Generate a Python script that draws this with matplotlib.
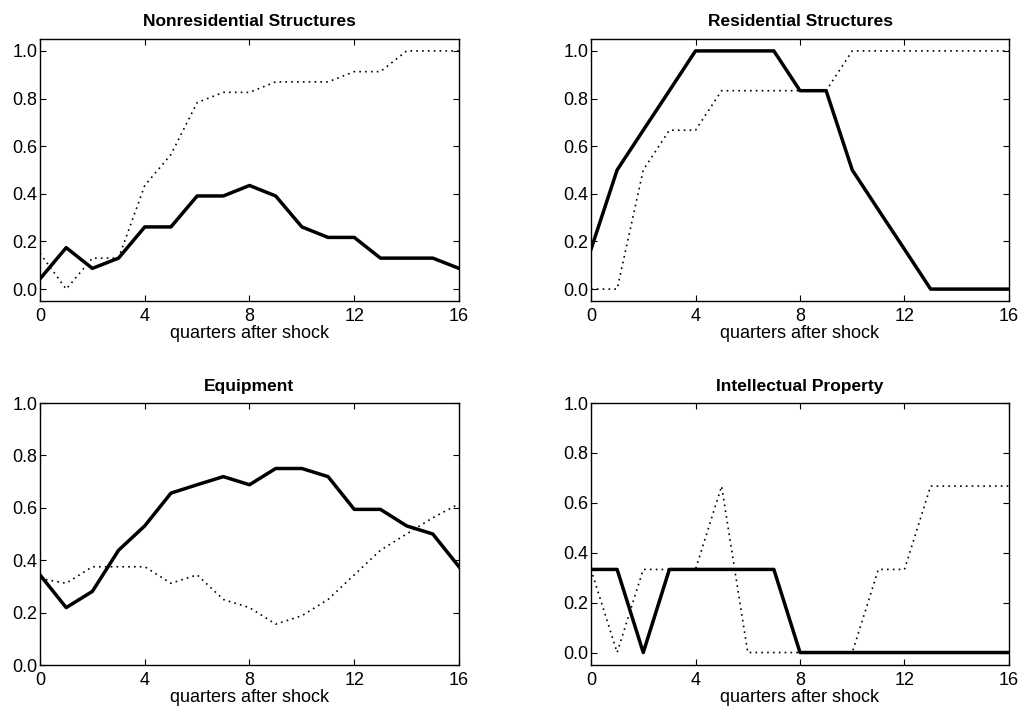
import numpy as np
import matplotlib
matplotlib.use('Agg')
import matplotlib.pyplot as plt

plt.rcParams['font.family'] = ['Liberation Sans', 'DejaVu Sans']

quarters = np.arange(17)

titles = ['Nonresidential Structures', 'Residential Structures',
          'Equipment', 'Intellectual Property']

# solid lines
nonres_solid = [0.043, 0.174, 0.087, 0.130, 0.261, 0.261, 0.391, 0.391, 0.435,
                0.391, 0.261, 0.217, 0.217, 0.130, 0.130, 0.130, 0.087]
res_solid = [0.167, 0.5, 0.667, 0.833, 1.0, 1.0, 1.0, 1.0, 0.833,
             0.833, 0.5, 0.333, 0.167, 0.0, 0.0, 0.0, 0.0]
equip_solid = [0.344, 0.219, 0.281, 0.438, 0.531, 0.656, 0.688, 0.719, 0.688,
               0.75, 0.75, 0.719, 0.594, 0.594, 0.531, 0.5, 0.375]
ip_solid = [0.333, 0.333, 0.0, 0.333, 0.333, 0.333, 0.333, 0.333, 0.0,
            0.0, 0.0, 0.0, 0.0, 0.0, 0.0, 0.0, 0.0]

# dotted lines
nonres_dot = [0.15, 0.0, 0.13, 0.13, 0.435, 0.565, 0.783, 0.826, 0.826,
              0.870, 0.870, 0.870, 0.913, 0.913, 1.0, 1.0, 1.0]
res_dot = [0.0, 0.0, 0.5, 0.667, 0.667, 0.833, 0.833, 0.833, 0.833,
           0.833, 1.0, 1.0, 1.0, 1.0, 1.0, 1.0, 1.0]
equip_dot = [0.33, 0.312, 0.375, 0.375, 0.375, 0.312, 0.344, 0.25, 0.219,
             0.156, 0.188, 0.25, 0.344, 0.438, 0.5, 0.562, 0.615]
ip_dot = [0.333, 0.0, 0.333, 0.333, 0.333, 0.667, 0.0, 0.0, 0.0,
          0.0, 0.0, 0.333, 0.333, 0.667, 0.667, 0.667, 0.667]

solids = [nonres_solid, res_solid, equip_solid, ip_solid]
dots = [nonres_dot, res_dot, equip_dot, ip_dot]
ylims = [(-0.05, 1.05), (-0.05, 1.05), (0.0, 1.0), (-0.05, 1.0)]

fig = plt.figure(figsize=(10.2, 7.09), dpi=100)
W, H = 1020, 709
boxes = [(40, 39, 459, 301), (591, 39, 1009, 301),
         (40, 403, 459, 665), (591, 403, 1009, 665)]

for i in range(4):
    l, t, r, b = boxes[i]
    ax = fig.add_axes([l / W, 1 - b / H, (r - l) / W, (b - t) / H])
    ax.plot(quarters, dots[i], color='black', linestyle=(0, (1, 2.5)), linewidth=1.2)
    ax.plot(quarters, solids[i], color='black', linewidth=2.5)
    ax.set_xlim(0, 16)
    ax.set_ylim(*ylims[i])
    ax.set_xticks([0, 4, 8, 12, 16])
    ax.set_yticks([0.0, 0.2, 0.4, 0.6, 0.8, 1.0])
    ax.set_yticklabels(['0.0', '0.2', '0.4', '0.6', '0.8', '1.0'])
    ax.tick_params(direction='in', top=True, right=True, length=4,
                   labelsize=13)
    ax.tick_params(axis='y', pad=2)
    ax.tick_params(axis='x', pad=5)
    ax.set_xlabel('quarters after shock', fontsize=13, labelpad=0)
    ax.set_title(titles[i], fontsize=12.5, fontweight='bold', pad=9)
    for s in ax.spines.values():
        s.set_linewidth(1.0)

plt.savefig('out.png', dpi=100)
